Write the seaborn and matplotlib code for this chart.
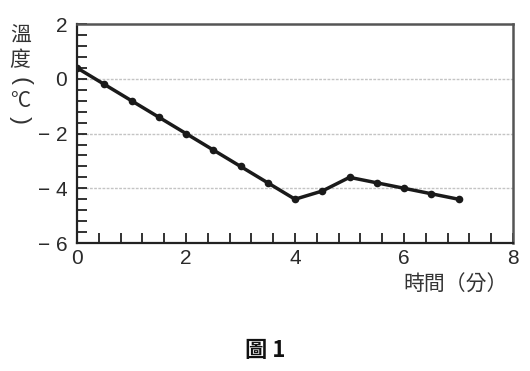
import numpy as np
import pandas as pd
import matplotlib
matplotlib.use('Agg')
import matplotlib.pyplot as plt
import seaborn as sns
from matplotlib.ticker import MultipleLocator

# data
time_min = [0, 0.5, 1, 1.5, 2, 2.5, 3, 3.5, 4, 4.5, 5, 5.5, 6, 6.5, 7]
temp_c = [0.4, -0.2, -0.8, -1.4, -2.0, -2.6, -3.2, -3.8, -4.4, -4.1, -3.6, -3.8, -4.0, -4.2, -4.4]
x_ticks = [0, 2, 4, 6, 8]
y_ticks = [2, 0, -2, -4, -6]
grid_levels = [0, -2, -4]

sns.set_style('white')
plt.rcParams['font.family'] = ['Noto Sans CJK TC', 'DejaVu Sans']
plt.rcParams['axes.unicode_minus'] = True

df = pd.DataFrame({'time': time_min, 'temp': temp_c})

fig = plt.figure(figsize=(5.3, 3.71), dpi=100)
ax = fig.add_axes([0.1453, 0.345, 0.8227, 0.59])

for g in grid_levels:
    ax.axhline(g, color='#c4c4c4', lw=1, ls=(0, (2, 1)), zorder=0)

sns.lineplot(data=df, x='time', y='temp', ax=ax, color='#1a1a1a', lw=2.5,
             marker='o', markersize=5.5, markeredgewidth=0)

ax.set_xlim(0, 8)
ax.set_ylim(-6, 2)
ax.set_xticks(x_ticks)
ax.set_yticks(y_ticks)
ax.set_yticklabels(['2', '0', '\u2212 2', '\u2212 4', '\u2212 6'])
ax.xaxis.set_minor_locator(MultipleLocator(0.4))
ax.yaxis.set_minor_locator(MultipleLocator(0.4))
ax.tick_params(axis='both', which='both', direction='in', bottom=True, left=True,
               top=False, right=False, width=1.3, color='#222222')
ax.tick_params(axis='both', which='major', length=7, labelsize=15)
ax.tick_params(axis='both', which='minor', length=7)
ax.tick_params(axis='x', which='major', pad=4)
ax.tick_params(axis='y', which='major', pad=7)
for lab in ax.get_xticklabels() + ax.get_yticklabels():
    lab.set_color('#2a2a2a')
    lab.set_family(['Liberation Sans', 'DejaVu Sans'])

for s in ['left', 'bottom']:
    ax.spines[s].set_linewidth(1.6)
    ax.spines[s].set_color('#222222')
for s in ['top', 'right']:
    ax.spines[s].set_linewidth(1.8)
    ax.spines[s].set_color('#555555')

ax.set_xlabel('')
ax.set_ylabel('')

# vertical y label, one glyph at a time
ylab_kw = dict(ha='center', va='center', color='#333333', fontsize=15)
fig.text(0.038, 1 - 36 / 371, '溫', **ylab_kw)
fig.text(0.038, 1 - 60 / 371, '度', **ylab_kw)
fig.text(0.038, 1 - 101 / 371, '°C', **ylab_kw)
paren_kw = dict(ha='center', va='center', color='#333333', fontsize=17,
                family=['Liberation Sans', 'DejaVu Sans'])
fig.text(0.038, 1 - 81 / 371, '(', rotation=-90, **paren_kw)
fig.text(0.038, 1 - 120 / 371, ')', rotation=-90, **paren_kw)

fig.text(0.958, 0.232, '時間（分）', ha='right', va='center', fontsize=15, color='#333333')
fig.text(0.5, 0.055, '圖 1', ha='center', va='center', fontsize=16,
         fontweight='bold', color='#111111')

fig.savefig('out.png', dpi=100)
